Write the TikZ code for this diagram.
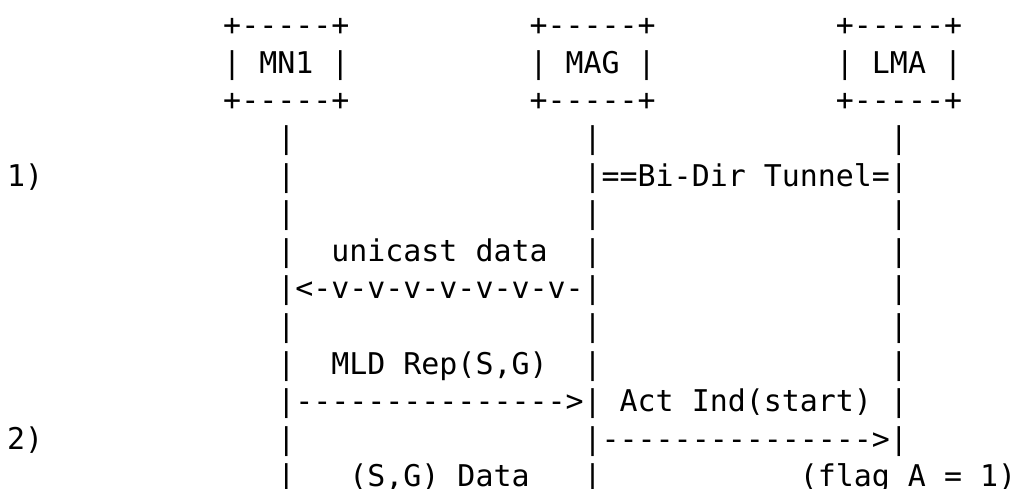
\documentclass[tikz,border=0pt]{standalone}
\usepackage{fontspec}
\newfontfamily\asciimono{DejaVu Sans Mono}
\begin{document}
\begin{tikzpicture}[x=1pt,y=1pt,
  txt/.style={anchor=base west,inner sep=0pt,outer sep=0pt,
    font=\asciimono\fontsize{29.93}{37.6}\selectfont,text=black}]
\useasboundingbox (0,0) rectangle (1014,-489);
\def\cw{18.02}
% row 0-2 : boxes
\node[txt] (mnTop)  at ({7+\cw*12},-35.6) {+-----+};
\node[txt] (magTop) at ({7+\cw*29},-35.6) {+-----+};
\node[txt] (lmaTop) at ({7+\cw*46},-35.6) {+-----+};
\node[txt] (mnName)  at ({7+\cw*12},-73.2) {| MN1 |};
\node[txt] (magName) at ({7+\cw*29},-73.2) {| MAG |};
\node[txt] (lmaName) at ({7+\cw*46},-73.2) {| LMA |};
\node[txt] (mnBot)  at ({7+\cw*12},-110.8) {+-----+};
\node[txt] (magBot) at ({7+\cw*29},-110.8) {+-----+};
\node[txt] (lmaBot) at ({7+\cw*46},-110.8) {+-----+};
% row 3
\node[txt] (mn3)  at ({7+\cw*15},-148.4) {|};
\node[txt] (mag3) at ({7+\cw*32},-148.4) {|};
\node[txt] (lma3) at ({7+\cw*49},-148.4) {|};
% row 4
\node[txt] (step1) at ({7+\cw*0},-186.0) {1)};
\node[txt] (mn4)   at ({7+\cw*15},-186.0) {|};
\node[txt] (tunnel) at ({7+\cw*32},-186.0) {|==Bi-Dir Tunnel=|};
% row 5
\node[txt] (mn5)  at ({7+\cw*15},-223.6) {|};
\node[txt] (mag5) at ({7+\cw*32},-223.6) {|};
\node[txt] (lma5) at ({7+\cw*49},-223.6) {|};
% row 6
\node[txt] (mn6)  at ({7+\cw*15},-261.2) {|};
\node[txt] (ucLabel) at ({7+\cw*18},-261.2) {unicast data};
\node[txt] (mag6) at ({7+\cw*32},-261.2) {|};
\node[txt] (lma6) at ({7+\cw*49},-261.2) {|};
% row 7
\node[txt] (ucArrow) at ({7+\cw*15},-298.8) {|<-v-v-v-v-v-v-v-|};
\node[txt] (lma7) at ({7+\cw*49},-298.8) {|};
% row 8
\node[txt] (mn8)  at ({7+\cw*15},-336.4) {|};
\node[txt] (mag8) at ({7+\cw*32},-336.4) {|};
\node[txt] (lma8) at ({7+\cw*49},-336.4) {|};
% row 9
\node[txt] (mn9)  at ({7+\cw*15},-374.0) {|};
\node[txt] (mldLabel) at ({7+\cw*18},-374.0) {MLD Rep(S,G)};
\node[txt] (mag9) at ({7+\cw*32},-374.0) {|};
\node[txt] (lma9) at ({7+\cw*49},-374.0) {|};
% row 10
\node[txt] (mldArrow) at ({7+\cw*15},-411.6) {|--------------->|};
\node[txt] (actLabel) at ({7+\cw*34},-411.6) {Act Ind(start)};
\node[txt] (lma10) at ({7+\cw*49},-411.6) {|};
% row 11
\node[txt] (step2) at ({7+\cw*0},-449.2) {2)};
\node[txt] (mn11)  at ({7+\cw*15},-449.2) {|};
\node[txt] (actArrow) at ({7+\cw*32},-449.2) {|--------------->|};
% row 12
\node[txt] (mn12)  at ({7+\cw*15},-486.8) {|};
\node[txt] (dataLabel) at ({7+\cw*19},-486.8) {(S,G) Data};
\node[txt] (mag12) at ({7+\cw*32},-486.8) {|};
\node[txt] (flagLabel) at ({7+\cw*44},-486.8) {(flag A = 1)};
\end{tikzpicture}
\end{document}
